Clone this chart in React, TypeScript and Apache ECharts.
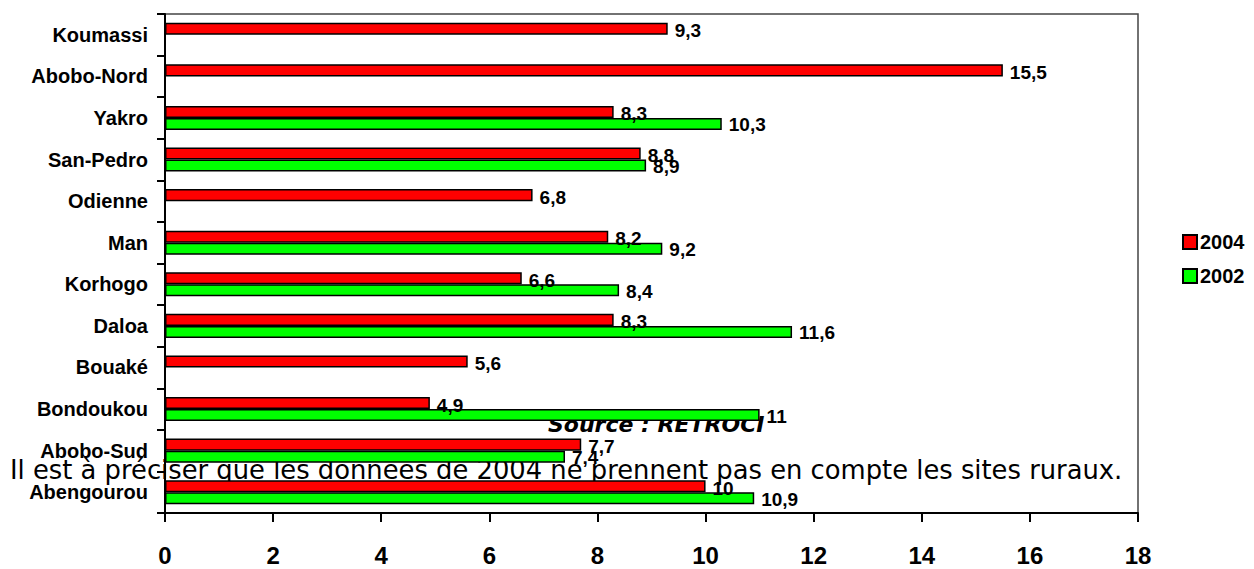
import React, { useEffect, useRef } from "react";
import * as echarts from "echarts";

// Sites, listed top to bottom
const sites = [
  "Koumassi",
  "Abobo-Nord",
  "Yakro",
  "San-Pedro",
  "Odienne",
  "Man",
  "Korhogo",
  "Daloa",
  "Bouaké",
  "Bondoukou",
  "Abobo-Sud",
  "Abengourou",
];

const values2004 = [9.3, 15.5, 8.3, 8.8, 6.8, 8.2, 6.6, 8.3, 5.6, 4.9, 7.7, 10];
const values2002: (number | null)[] = [null, null, 10.3, 8.9, null, 9.2, 8.4, 11.6, null, 11, 7.4, 10.9];

const xTicks = { min: 0, max: 18, interval: 2 };

const sourceText = "Source : RETROCI";
const noteText =
  "Il est à préciser que les données de 2004 ne prennent pas en compte les sites ruraux.";

const ARIAL = "'Liberation Sans', Arial, sans-serif";

const fmt = (v: number) => String(v).replace(".", ",");

export default function App() {
  const ref = useRef<HTMLDivElement>(null);

  useEffect(() => {
    if (!ref.current) return;
    const chart = echarts.init(ref.current, null, { renderer: "svg" });

    const labelStyle = {
      show: true,
      position: "right" as const,
      distance: 7,
      color: "#000",
      fontFamily: ARIAL,
      fontWeight: "bold" as const,
      fontSize: 19,
      formatter: (p: any) => fmt(p.value),
    };

    chart.setOption({
      animation: false,
      backgroundColor: "#fff",
      grid: {
        left: 165,
        right: 116,
        top: 14,
        bottom: 56,
        show: true,
        borderColor: "#444",
        borderWidth: 1.5,
        backgroundColor: "transparent",
      },
      legend: {
        orient: "vertical",
        left: 1177,
        top: 227,
        itemWidth: 14,
        itemHeight: 14,
        itemGap: 14,
        icon: "rect",
        data: ["2004", "2002"],
        textStyle: {
          color: "#000",
          fontFamily: ARIAL,
          fontWeight: "bold",
          fontSize: 20,
          padding: [0, 0, 0, -2],
        },
      },
      xAxis: {
        type: "value",
        min: xTicks.min,
        max: xTicks.max,
        interval: xTicks.interval,
        splitLine: { show: false },
        axisLine: { show: true, lineStyle: { color: "#000", width: 2 } },
        axisTick: { show: true, length: 9, lineStyle: { color: "#000", width: 2 } },
        axisLabel: {
          color: "#000",
          fontFamily: ARIAL,
          fontWeight: "bold",
          fontSize: 24,
          margin: 30,
        },
      },
      yAxis: {
        type: "category",
        data: sites,
        inverse: true,
        z: 3,
        axisLine: { show: true, lineStyle: { color: "#000", width: 2 } },
        axisTick: { show: true, length: 8, lineStyle: { color: "#000", width: 2 } },
        axisLabel: {
          color: "#000",
          fontFamily: ARIAL,
          fontWeight: "bold",
          fontSize: 20,
          margin: 17,
        },
      },
      graphic: [
        {
          type: "text",
          z: 0,
          left: 548,
          top: 413,
          style: {
            text: sourceText,
            fill: "#000",
            fontFamily: "'DejaVu Sans', sans-serif",
            fontWeight: "bold",
            fontStyle: "italic",
            fontSize: 22,
          },
        },
        {
          type: "text",
          z: 0,
          left: 10,
          top: 457,
          style: {
            text: noteText,
            fill: "#000",
            fontFamily: "'DejaVu Sans', sans-serif",
            fontSize: 25.8,
          },
        },
      ],
      series: [
        {
          name: "2004",
          type: "bar",
          z: 2,
          data: values2004,
          barGap: "0%",
          barCategoryGap: "42%",
          itemStyle: { color: "#ff0000", borderColor: "#000", borderWidth: 1.5 },
          label: { ...labelStyle, offset: [0, 2] },
        },
        {
          name: "2002",
          type: "bar",
          z: 2,
          data: values2002,
          barGap: "0%",
          barCategoryGap: "42%",
          itemStyle: { color: "#00ff00", borderColor: "#000", borderWidth: 1.5 },
          label: { ...labelStyle, offset: [0, 1] },
        },
      ],
    });

    return () => chart.dispose();
  }, []);

  return <div ref={ref} style={{ width: 1254, height: 569, position: "absolute", left: 0, top: 0 }} />;
}
